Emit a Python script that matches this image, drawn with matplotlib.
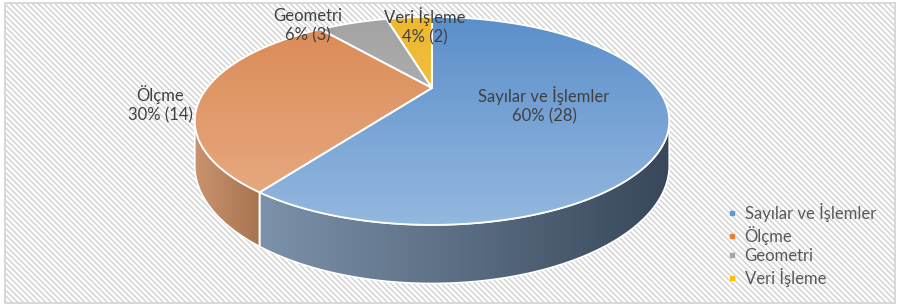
import numpy as np
import matplotlib
matplotlib.use('Agg')
import matplotlib.pyplot as plt
from matplotlib.patches import Polygon, Rectangle
from matplotlib.colors import LinearSegmentedColormap
from matplotlib.collections import LineCollection
from matplotlib.lines import Line2D

# ---- data ----
categories = ['Sayılar ve İşlemler', 'Ölçme', 'Geometri', 'Veri İşleme']
counts = [28, 14, 3, 2]
percent_labels = ['60%', '30%', '6%', '4%']

# ---- style ----
top_colors = [('#5b8fca', '#94b8df'), ('#da8a55', '#e9ad86'),
              ('#a3a3a3', '#bdbdbd'), ('#eeb830', '#f5cc5e')]
side_colors = [('#7c92aa', '#38475a'), ('#c99370', '#a87450'),
               ('#8c8c8c', '#6a6a6a'), ('#c9a030', '#a88020')]
legend_colors = ['#5b9bd5', '#ed7d31', '#a5a5a5', '#ffc000']
label_pos = [(544, 105), (160, 104), (308, 26), (425, 26)]

plt.rcParams['font.family'] = ['Lato', 'DejaVu Sans']

W, H = 899, 307
fig = plt.figure(figsize=(W / 100, H / 100), dpi=100)
fig.patch.set_facecolor('white')

ax = fig.add_axes([0, 0, 1, 1])
ax.set_axis_off()
ax.patch.set_alpha(0)

# hatched background + border
frame = Rectangle((5, 3), 890, 300, facecolor='white', edgecolor='none', zorder=0)
ax.add_patch(frame)
spacing = 5.6
xs0 = np.arange(-H, W + spacing, spacing)
segs = [[(x, 0), (x + H, H)] for x in xs0]
lc = LineCollection(segs, colors='#d4d4d4', linewidths=1.1, zorder=0.5)
ax.add_collection(lc)
lc.set_clip_path(frame)
ax.add_patch(Rectangle((5, 3), 890, 300, facecolor='none', edgecolor='#d6d6d6',
                       linewidth=1.3, zorder=1))

# ---- 3D pie geometry (perspective) ----
cx, cy = 432.0, 88.0
R, Ry, p, thick = 225.0, 93.5, 0.317, 40.0


def proj(theta_deg, r=1.0, z=0.0):
    t = np.radians(theta_deg)
    X = r * np.cos(t)
    Y = r * np.sin(t)
    w = 1.0 / (1.0 + p * Y)
    return np.column_stack([cx + R * X * w, cy - Ry * Y * w + thick * w * z])


def grad_fill(verts, c1, c2, direction, zorder, ext):
    poly = Polygon(verts, closed=True, facecolor='none', edgecolor='none')
    ax.add_patch(poly)
    cmap = LinearSegmentedColormap.from_list('g', [c1, c2])
    g = np.linspace(0, 1, 256)
    arr = g.reshape(-1, 1) if direction == 'v' else g.reshape(1, -1)
    x0, x1, y0, y1 = ext
    im = ax.imshow(arr, cmap=cmap, extent=(x0, x1, y1, y0), origin='upper',
                   aspect='auto', zorder=zorder, interpolation='bilinear')
    im.set_clip_path(poly)


total = sum(counts)
fracs = [c / total for c in counts]
starts, ends = [], []
a = 90.0
for f in fracs:
    starts.append(a)
    ends.append(a - 360.0 * f)
    a -= 360.0 * f

sil = np.degrees(np.arcsin(p))
vis_lo, vis_hi = 180 + sil, 360 - sil

top_pts = proj(np.linspace(0, 360, 721))
top_ext = (top_pts[:, 0].min(), top_pts[:, 0].max(), top_pts[:, 1].min(), top_pts[:, 1].max())

# sides
for i in range(len(counts)):
    lo, hi = ends[i], starts[i]
    for shift in (0, 360, -360):
        s0 = max(lo + shift, vis_lo)
        s1 = min(hi + shift, vis_hi)
        if s1 > s0:
            th = np.linspace(s0, s1, 200)
            upper = proj(th, z=0)
            lower = proj(th, z=1)
            verts = np.vstack([upper, lower[::-1]])
            ext = (verts[:, 0].min(), verts[:, 0].max(), verts[:, 1].min(), verts[:, 1].max())
            grad_fill(verts, side_colors[i][0], side_colors[i][1], 'h', 2, ext)
            ax.add_patch(Polygon(verts, closed=True, facecolor='none',
                                 edgecolor='white', linewidth=1.2, zorder=3))

# tops
for i in range(len(counts)):
    th = np.linspace(starts[i], ends[i], 300)
    arc = proj(th)
    verts = np.vstack([proj([0], r=0), arc])
    grad_fill(verts, top_colors[i][0], top_colors[i][1], 'v', 4, top_ext)
    ax.add_patch(Polygon(verts, closed=True, facecolor='none',
                         edgecolor='white', linewidth=1.3, zorder=5))

# labels
for i in range(len(counts)):
    x, y = label_pos[i]
    ax.text(x, y, f'{categories[i]}\n{percent_labels[i]} ({counts[i]})',
            ha='center', va='center', fontsize=12, color='#404040',
            linespacing=1.25, zorder=6)

# legend
handles = [Line2D([], [], marker='s', linestyle='none', markersize=3.5,
                  markerfacecolor=c, markeredgecolor=c) for c in legend_colors]
ax.legend(handles, categories, loc='upper left', bbox_to_anchor=(728 / W, 1 - 203 / H),
          bbox_transform=fig.transFigure, frameon=False, fontsize=12,
          labelcolor='#595959', handlelength=0.5, handletextpad=0.5,
          labelspacing=0.22, borderpad=0, borderaxespad=0)

ax.set_xlim(0, W)
ax.set_ylim(H, 0)
fig.savefig('out.png', dpi=100, facecolor='white')
